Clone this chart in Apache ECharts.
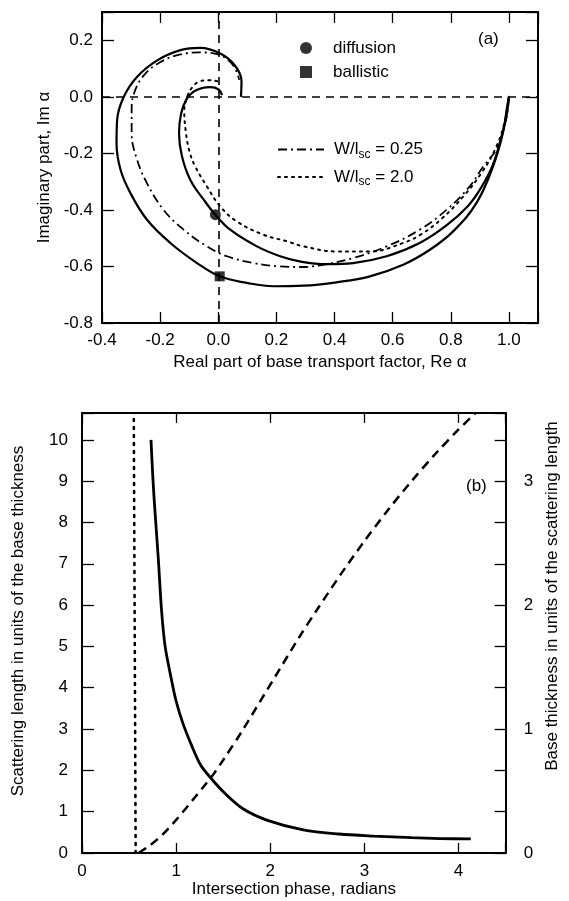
<!DOCTYPE html>
<html><head><meta charset="utf-8">
<script src="https://cdn.jsdelivr.net/npm/echarts@6/dist/echarts.min.js"></script>
<style>html,body{margin:0;padding:0;background:#fff}#c{width:569px;height:901px}</style>
</head><body><div id="c"></div>
<script>
const FONT = '"Liberation Sans", Arial, Helvetica, sans-serif';

// ---------- Panel (a) data: complex transport factor ----------
const aXTicks = [-0.4, -0.2, 0.0, 0.2, 0.4, 0.6, 0.8, 1.0];
const aYTicks = [-0.8, -0.6, -0.4, -0.2, 0.0, 0.2];
// inner solid curve (diffusion limit)
const diffusionRe = [1.0, 0.993, 0.977, 0.945, 0.905, 0.86, 0.785, 0.693, 0.579, 0.464, 0.373, 0.28, 0.213, 0.133, 0.041, -0.01, -0.05, -0.096, -0.125, -0.135, -0.128, -0.11, -0.085, -0.055, -0.027, 0.001, 0.013];
const diffusionIm = [0.0, -0.06, -0.13, -0.24, -0.32, -0.385, -0.455, -0.517, -0.564, -0.588, -0.592, -0.582, -0.564, -0.529, -0.47, -0.417, -0.364, -0.294, -0.21, -0.13, -0.06, -0.01, 0.018, 0.031, 0.034, 0.026, 0.006];
// outer solid curve (ballistic limit)
const ballisticRe = [1.0, 0.993, 0.979, 0.945, 0.888, 0.808, 0.728, 0.636, 0.522, 0.407, 0.293, 0.19, 0.098, 0.005, -0.073, -0.165, -0.245, -0.302, -0.336, -0.35, -0.348, -0.325, -0.279, -0.21, -0.13, -0.062, 0.007, 0.058, 0.08, 0.078];
const ballisticIm = [0.0, -0.04, -0.129, -0.247, -0.376, -0.476, -0.541, -0.594, -0.635, -0.656, -0.668, -0.67, -0.658, -0.635, -0.588, -0.517, -0.435, -0.341, -0.259, -0.164, -0.082, 0.0, 0.071, 0.129, 0.165, 0.173, 0.153, 0.11, 0.055, 0.0];
// dash-dot curve, W/lsc = 0.25
const w025Re = [1.0, 0.99, 0.96, 0.911, 0.865, 0.785, 0.693, 0.579, 0.464, 0.35, 0.28, 0.213, 0.121, 0.03, -0.039, -0.119, -0.188, -0.245, -0.28, -0.298, -0.298, -0.29, -0.256, -0.199, -0.13, -0.062, -0.004, 0.035, 0.058, 0.072];
const w025Im = [0.0, -0.08, -0.18, -0.247, -0.317, -0.4, -0.47, -0.529, -0.57, -0.596, -0.602, -0.6, -0.588, -0.564, -0.529, -0.47, -0.4, -0.306, -0.22, -0.129, -0.047, 0.012, 0.076, 0.123, 0.15, 0.157, 0.151, 0.129, 0.1, 0.06];
// dotted curve, W/lsc = 2.0
const w20Re = [1.0, 0.985, 0.955, 0.905, 0.845, 0.77, 0.7, 0.636, 0.522, 0.407, 0.293, 0.236, 0.156, 0.064, 0.007, -0.039, -0.079, -0.1, -0.112, -0.117, -0.105, -0.09, -0.068, -0.033, -0.004, 0.01];
const w20Im = [0.0, -0.09, -0.18, -0.27, -0.35, -0.43, -0.485, -0.517, -0.547, -0.547, -0.529, -0.511, -0.488, -0.441, -0.388, -0.317, -0.247, -0.19, -0.12, -0.05, 0.005, 0.033, 0.053, 0.059, 0.055, 0.045];
const diffusionPoint = [-0.01, -0.417];
const ballisticPoint = [0.005, -0.635];

// ---------- Panel (b) data ----------
const bXTicks = [0, 1, 2, 3, 4];
const bLeftTicks = [0, 1, 2, 3, 4, 5, 6, 7, 8, 9, 10];
const bRightTicks = [0, 1, 2, 3];
const scatPhase = [0.733, 0.75, 0.77, 0.81, 0.846, 0.883, 0.94, 0.996, 1.07, 1.165, 1.26, 1.37, 1.52, 1.71, 1.97, 2.35, 2.73, 3.1, 3.5, 3.8, 4.13];
const scatLength = [10.0, 9.2, 8.44, 7.14, 5.84, 5.0, 4.31, 3.71, 3.15, 2.6, 2.13, 1.81, 1.44, 1.07, 0.79, 0.56, 0.46, 0.41, 0.37, 0.35, 0.34];
const basePhase = [0.6, 0.7, 0.8, 0.9, 1.0, 1.1, 1.2, 1.3, 1.4, 1.5, 1.7, 1.9, 2.1, 2.3, 2.5, 2.75, 3.0, 3.25, 3.5, 3.75, 4.0, 4.18];
const baseThick = [0, 0.05, 0.11, 0.183, 0.267, 0.357, 0.45, 0.543, 0.64, 0.75, 0.983, 1.233, 1.483, 1.733, 1.967, 2.25, 2.517, 2.767, 3.0, 3.217, 3.417, 3.55];
const limitPhase = [0.57, 0.55];
const limitLength = [0, 10.65];

const zip = (a, b) => a.map((v, i) => [v, b[i]]);
const near = (v, arr) => arr.some(t => Math.abs(t - v) < 1e-6);

const axisLineS = { show: true, onZero: false, lineStyle: { color: '#000', width: 2 } };
const tickS = (len) => ({ show: true, inside: true, length: len, lineStyle: { color: '#000', width: 1.3 } });
const labelS = (fmt, margin) => ({ show: true, color: '#000', fontSize: 17, fontFamily: FONT, margin: margin, formatter: fmt });
const nameS = { color: '#000', fontSize: 17, fontFamily: FONT };

const fmtA = (ticks) => (v) => near(v, ticks) ? (Math.abs(v) < 1e-9 ? '0.0' : v.toFixed(1)) : '';
const fmtInt = (ticks) => (v) => near(v, ticks) ? String(Math.round(v)) : '';

const option = {
  animation: false,
  backgroundColor: '#fff',
  grid: [
    { left: 102, right: 31, top: 12, bottom: 578 },
    { left: 82, right: 53, top: 413, bottom: 48 }
  ],
  xAxis: [
    { gridIndex: 0, type: 'value', min: -0.4, max: 1.1, interval: 0.2, position: 'bottom',
      axisLine: axisLineS, axisTick: tickS(11), splitLine: { show: false },
      axisLabel: labelS(fmtA(aXTicks), 9),
      name: 'Real part of base transport factor, Re α', nameLocation: 'middle', nameGap: 31, nameTextStyle: nameS },
    { gridIndex: 0, type: 'value', min: -0.4, max: 1.1, interval: 0.2, position: 'top',
      axisLine: axisLineS, axisTick: tickS(11), splitLine: { show: false }, axisLabel: { show: false } },
    { gridIndex: 1, type: 'value', min: 0, max: 4.5, interval: 1, position: 'bottom',
      axisLine: axisLineS, axisTick: tickS(10), splitLine: { show: false },
      axisLabel: labelS(fmtInt(bXTicks), 10),
      name: 'Intersection phase, radians', nameLocation: 'middle', nameGap: 28, nameTextStyle: nameS },
    { gridIndex: 1, type: 'value', min: 0, max: 4.5, interval: 1, position: 'top',
      axisLine: axisLineS, axisTick: tickS(10), splitLine: { show: false }, axisLabel: { show: false } }
  ],
  yAxis: [
    { gridIndex: 0, type: 'value', min: -0.8, max: 0.3, interval: 0.2, position: 'left',
      axisLine: axisLineS, axisTick: tickS(12), splitLine: { show: false },
      axisLabel: labelS(fmtA(aYTicks), 9),
      name: 'Imaginary part, Im α', nameLocation: 'middle', nameRotate: 90, nameGap: 41, nameTextStyle: nameS },
    { gridIndex: 0, type: 'value', min: -0.8, max: 0.3, interval: 0.2, position: 'right',
      axisLine: axisLineS, axisTick: tickS(12), splitLine: { show: false }, axisLabel: { show: false } },
    { gridIndex: 1, type: 'value', min: 0, max: 10.65, interval: 1, position: 'left',
      axisLine: axisLineS, axisTick: tickS(12), splitLine: { show: false },
      axisLabel: labelS(fmtInt(bLeftTicks), 14),
      name: 'Scattering length in units of the base thickness', nameLocation: 'middle', nameRotate: 90, nameGap: 55,
      nameTextStyle: Object.assign({ padding: [0, 0, 0, 24] }, nameS) },
    { gridIndex: 1, type: 'value', min: 0, max: 3.55, interval: 1 / 3, position: 'right',
      axisLine: axisLineS, axisTick: tickS(11), splitLine: { show: false },
      axisLabel: labelS(fmtInt(bRightTicks), 18),
      name: 'Base thickness in units of the scattering length', nameLocation: 'middle', nameRotate: 90, nameGap: 35,
      nameTextStyle: Object.assign({ padding: [0, 0, 0, 74] }, nameS) }
  ],
  legend: [
    { show: true, orient: 'vertical', left: 295, top: 33, itemWidth: 12, itemHeight: 12, itemGap: 4,
      data: ['diffusion', 'ballistic'], selectedMode: false,
      textStyle: { color: '#000', fontSize: 17, fontFamily: FONT, lineHeight: 20, padding: [0, 0, 0, 16] } },
    { show: true, orient: 'vertical', left: 272, top: 136, itemWidth: 46, itemHeight: 12, itemGap: 8,
      data: ['W/lsc = 0.25', 'W/lsc = 2.0'], selectedMode: false,
      itemStyle: { opacity: 0 },
      formatter: (n) => n === 'W/lsc = 0.25' ? '{n|W/l}{s|sc}{n| = 0.25}' : '{n|W/l}{s|sc}{n| = 2.0}',
      textStyle: { color: '#000', fontFamily: FONT, padding: [0, 0, 0, 5],
        rich: { n: { fontSize: 17, fontFamily: FONT, lineHeight: 22, verticalAlign: 'middle', color: '#000' },
                s: { fontSize: 12, fontFamily: FONT, lineHeight: 22, verticalAlign: 'bottom', color: '#000' } } } }
  ],
  graphic: [
    { type: 'text', left: 478, top: 31, style: { text: '(a)', fontSize: 17, fontFamily: FONT, fill: '#000' } },
    { type: 'text', left: 466, top: 478, style: { text: '(b)', fontSize: 17, fontFamily: FONT, fill: '#000' } }
  ],
  series: [
    { name: 'axes', type: 'line', xAxisIndex: 0, yAxisIndex: 0, data: [], silent: true,
      markLine: { silent: true, symbol: ['none', 'none'], label: { show: false },
        lineStyle: { color: '#000', width: 1.6, type: [8, 6] },
        data: [{ xAxis: 0 }, { yAxis: 0 }] } },
    { name: 'diffusion limit', type: 'line', xAxisIndex: 0, yAxisIndex: 0, smooth: 0.4, symbol: 'none',
      data: zip(diffusionRe, diffusionIm), lineStyle: { color: '#000', width: 2.2 } },
    { name: 'ballistic limit', type: 'line', xAxisIndex: 0, yAxisIndex: 0, smooth: 0.4, symbol: 'none',
      data: zip(ballisticRe, ballisticIm), lineStyle: { color: '#000', width: 2.2 } },
    { name: 'W/lsc = 0.25', type: 'line', xAxisIndex: 0, yAxisIndex: 0, smooth: 0.4, symbol: 'none',
      data: zip(w025Re, w025Im), itemStyle: { color: '#000' },
      lineStyle: { color: '#000', width: 1.8, type: [9, 4, 2, 4] } },
    { name: 'W/lsc = 2.0', type: 'line', xAxisIndex: 0, yAxisIndex: 0, smooth: 0.4, symbol: 'none',
      data: zip(w20Re, w20Im), itemStyle: { color: '#000' },
      lineStyle: { color: '#000', width: 2, type: [2, 5], cap: 'round' } },
    { name: 'diffusion', type: 'scatter', xAxisIndex: 0, yAxisIndex: 0, symbol: 'circle', symbolSize: 11,
      data: [diffusionPoint], itemStyle: { color: '#000' }, z: 5 },
    { name: 'ballistic', type: 'scatter', xAxisIndex: 0, yAxisIndex: 0, symbol: 'rect', symbolSize: 10,
      data: [ballisticPoint], itemStyle: { color: '#000' }, z: 5 },
    { name: 'scattering length', type: 'line', xAxisIndex: 2, yAxisIndex: 2, smooth: 0.3, symbol: 'none',
      data: zip(scatPhase, scatLength), lineStyle: { color: '#000', width: 2.8 } },
    { name: 'base thickness', type: 'line', xAxisIndex: 2, yAxisIndex: 3, smooth: 0.3, symbol: 'none',
      data: zip(basePhase, baseThick), lineStyle: { color: '#000', width: 2.5, type: [9, 6] } },
    { name: 'limit', type: 'line', xAxisIndex: 2, yAxisIndex: 2, symbol: 'none',
      data: zip(limitPhase, limitLength), lineStyle: { color: '#000', width: 2.6, type: [2, 6], cap: 'round' } }
  ]
};
const chart = echarts.init(document.getElementById('c'), null, { renderer: 'canvas', width: 569, height: 901 });
chart.setOption(option);
</script>
</body></html>
